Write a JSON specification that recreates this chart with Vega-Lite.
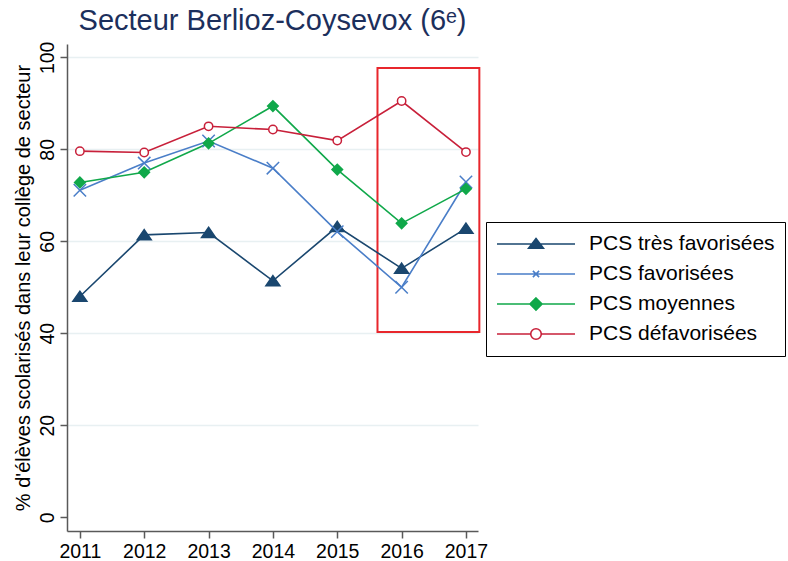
{
  "$schema": "https://vega.github.io/schema/vega-lite/v6.json",
  "width": 411,
  "height": 487,
  "autosize": {"type": "none"},
  "padding": {"left": 67, "top": 44, "right": 310, "bottom": 30},
  "background": "white",
  "title": {
    "text": "Secteur Berlioz-Coysevox (6ᵉ)",
    "font": "Liberation Sans",
    "fontSize": 29,
    "fontWeight": "normal",
    "color": "#1c2f5c",
    "anchor": "middle",
    "baseline": "alphabetic",
    "offset": -18
  },
  "config": {
    "view": {"stroke": null},
    "font": "Liberation Sans",
    "axis": {
      "labelFont": "Liberation Sans",
      "titleFont": "Liberation Sans",
      "labelFontSize": 19.5,
      "titleFontSize": 20,
      "labelColor": "black",
      "titleColor": "black",
      "titleFontWeight": "normal",
      "domainColor": "#595959",
      "domainWidth": 1.5,
      "tickColor": "#595959",
      "tickWidth": 1.5,
      "tickSize": 7
    }
  },
  "datasets": {
    "series": [
      {"year": 2011, "group": "PCS très favorisées", "value": 48.0},
      {"year": 2012, "group": "PCS très favorisées", "value": 61.4},
      {"year": 2013, "group": "PCS très favorisées", "value": 61.9},
      {"year": 2014, "group": "PCS très favorisées", "value": 51.4},
      {"year": 2015, "group": "PCS très favorisées", "value": 63.2},
      {"year": 2016, "group": "PCS très favorisées", "value": 54.1},
      {"year": 2017, "group": "PCS très favorisées", "value": 62.8},
      {"year": 2011, "group": "PCS favorisées", "value": 71.1},
      {"year": 2012, "group": "PCS favorisées", "value": 77.0},
      {"year": 2013, "group": "PCS favorisées", "value": 81.8},
      {"year": 2014, "group": "PCS favorisées", "value": 75.9},
      {"year": 2015, "group": "PCS favorisées", "value": 62.1},
      {"year": 2016, "group": "PCS favorisées", "value": 50.0},
      {"year": 2017, "group": "PCS favorisées", "value": 72.9},
      {"year": 2011, "group": "PCS moyennes", "value": 72.8},
      {"year": 2012, "group": "PCS moyennes", "value": 75.0},
      {"year": 2013, "group": "PCS moyennes", "value": 81.3},
      {"year": 2014, "group": "PCS moyennes", "value": 89.4},
      {"year": 2015, "group": "PCS moyennes", "value": 75.6},
      {"year": 2016, "group": "PCS moyennes", "value": 63.9},
      {"year": 2017, "group": "PCS moyennes", "value": 71.4},
      {"year": 2011, "group": "PCS défavorisées", "value": 79.6},
      {"year": 2012, "group": "PCS défavorisées", "value": 79.3},
      {"year": 2013, "group": "PCS défavorisées", "value": 85.0},
      {"year": 2014, "group": "PCS défavorisées", "value": 84.3},
      {"year": 2015, "group": "PCS défavorisées", "value": 81.9},
      {"year": 2016, "group": "PCS défavorisées", "value": 90.5},
      {"year": 2017, "group": "PCS défavorisées", "value": 79.4}
    ],
    "highlight": [
      {"start": 2015.625, "end": 2017.208, "low": 40.3, "high": 97.7}
    ]
  },
  "layer": [
    {
      "data": {"name": "highlight"},
      "mark": {"type": "rect", "fill": null, "fillOpacity": 0, "stroke": "#e8262c", "strokeWidth": 2, "clip": false},
      "encoding": {
        "x": {"field": "start", "type": "quantitative", "scale": {"domain": [2010.8, 2017.187], "nice": false, "zero": false},
          "axis": {"values": [2011, 2012, 2013, 2014, 2015, 2016, 2017], "format": "d", "title": null, "grid": false, "labelPadding": 4, "labelBaseline": "top"}},
        "x2": {"field": "end"},
        "y": {"field": "low", "type": "quantitative", "scale": {"domain": [-3, 102.9], "nice": false, "zero": false},
          "axis": {
            "values": [0, 20, 40, 60, 80, 100],
            "title": "% d'élèves scolarisés dans leur collège de secteur",
            "labelAngle": -90,
            "labelAlign": "center",
            "labelBaseline": "bottom",
            "labelPadding": 3,
            "titlePadding": 4,
            "grid": true,
            "gridColor": {"condition": {"test": "datum.value === 0", "value": "transparent"}, "value": "#e8f0f2"},
            "gridWidth": 1.5
          }},
        "y2": {"field": "high"}
      }
    },
    {
      "data": {"name": "series"},
      "mark": {"type": "line", "strokeWidth": 1.6},
      "encoding": {
        "x": {"field": "year", "type": "quantitative"},
        "y": {"field": "value", "type": "quantitative"},
        "color": {
          "field": "group", "type": "nominal",
          "scale": {
            "domain": ["PCS très favorisées", "PCS favorisées", "PCS moyennes", "PCS défavorisées"],
            "range": ["#1a476f", "#4a7ec8", "#10a84a", "#c8203a"]
          },
          "legend": {
            "title": null,
            "orient": "none",
            "legendX": 419,
            "legendY": 178,
            "direction": "vertical",
            "strokeColor": "black",
            "fillColor": "white",
            "padding": 10,
            "labelFont": "Liberation Sans",
            "labelFontSize": 21,
            "labelColor": "black",
            "labelOffset": 13,
            "labelLimit": 400,
            "clipHeight": 24,
            "rowPadding": 6,
            "symbolStrokeWidth": 1.6,
            "encode": {
              "symbols": {
                "update": {
                  "shape": {"signal": "datum.value === 'PCS très favorisées' ? 'M-1,0H1M0,-0.14L0.19,0.11L-0.19,0.11Z' : datum.value === 'PCS favorisées' ? 'M-1,0H1M-0.08,-0.08L0.08,0.08M-0.08,0.08L0.08,-0.08' : datum.value === 'PCS moyennes' ? 'M-1,0H1M0,-0.155L0.155,0L0,0.155L-0.155,0Z' : 'M-1,0H-0.135M0.135,0H1M0.135,0A0.135,0.135,0,1,1,-0.135,0A0.135,0.135,0,1,1,0.135,0Z'"},
                  "size": {"value": 6084},
                  "fill": {"signal": "datum.value === 'PCS très favorisées' ? '#1a476f' : datum.value === 'PCS moyennes' ? '#10a84a' : datum.value === 'PCS défavorisées' ? 'white' : 'transparent'"},
                  "fillOpacity": {"value": 1},
                  "strokeWidth": {"value": 1.6}
                }
              }
            }
          }
        }
      }
    },
    {
      "data": {"name": "series"},
      "mark": {"type": "point", "filled": false, "opacity": 1, "strokeWidth": 1.5},
      "encoding": {
        "x": {"field": "year", "type": "quantitative"},
        "y": {"field": "value", "type": "quantitative"},
        "shape": {
          "field": "group", "type": "nominal",
          "scale": {
            "domain": ["PCS très favorisées", "PCS favorisées", "PCS moyennes", "PCS défavorisées"],
            "range": ["M0,-0.75L1,0.7L-1,0.7Z", "M-1,-1L1,1M-1,1L1,-1", "diamond", "circle"]
          },
          "legend": null
        },
        "size": {
          "field": "group", "type": "nominal",
          "scale": {
            "domain": ["PCS très favorisées", "PCS favorisées", "PCS moyennes", "PCS défavorisées"],
            "range": [196, 70, 115, 90]
          },
          "legend": null
        },
        "stroke": {
          "field": "group", "type": "nominal",
          "scale": {
            "domain": ["PCS très favorisées", "PCS favorisées", "PCS moyennes", "PCS défavorisées"],
            "range": ["#1a476f", "#4a7ec8", "#10a84a", "#c8203a"]
          },
          "legend": null
        },
        "fill": {
          "field": "group", "type": "nominal",
          "scale": {
            "domain": ["PCS très favorisées", "PCS favorisées", "PCS moyennes", "PCS défavorisées"],
            "range": ["#1a476f", "transparent", "#10a84a", "white"]
          },
          "legend": null
        }
      }
    }
  ],
  "resolve": {"scale": {"fill": "independent", "stroke": "independent", "shape": "independent", "size": "independent"}}
}
